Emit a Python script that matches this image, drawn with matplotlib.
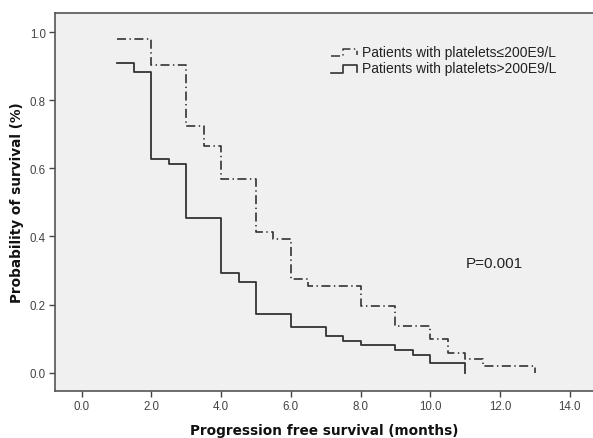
import matplotlib
matplotlib.use("Agg")
import matplotlib.pyplot as plt
from matplotlib.lines import Line2D

# Kaplan-Meier steps (value holds from that month on)
months_low = [1.0, 2.0, 3.0, 3.5, 4.0, 5.0, 5.5, 6.0, 6.5, 8.0, 9.0, 10.0, 10.5, 11.0, 11.5, 13.0]
surv_low = [0.979, 0.903, 0.725, 0.666, 0.569, 0.414, 0.392, 0.275, 0.255, 0.196,
            0.137, 0.098, 0.059, 0.039, 0.020, 0.0]

months_high = [1.0, 1.5, 2.0, 2.5, 3.0, 4.0, 4.5, 5.0, 6.0, 7.0, 7.5, 8.0, 9.0, 9.5, 10.0, 11.0]
surv_high = [0.909, 0.882, 0.627, 0.613, 0.453, 0.293, 0.266, 0.173, 0.133, 0.107,
             0.093, 0.080, 0.067, 0.053, 0.027, 0.0]

labels = ["Patients with platelets\u2264200E9/L", "Patients with platelets>200E9/L"]
x_ticks = [0, 2, 4, 6, 8, 10, 12, 14]
y_ticks = [0.0, 0.2, 0.4, 0.6, 0.8, 1.0]

plt.rcParams["lines.scale_dashes"] = False
plt.rcParams["font.family"] = ["Liberation Sans", "DejaVu Sans"]

W, H = 593, 439
fig = plt.figure(figsize=(W / 100, H / 100), dpi=100)


def fx(px):
    return px / W


def fy(py):
    return 1 - py / H


ax = fig.add_axes([fx(54.7), fy(392.3), 1 - fx(54.7), fy(14) - fy(392.3)])
ax.set_facecolor("#f0f0f0")

dashdot = (0, (6.5, 2.5, 1.0, 2.5))
line_col = "#333333"

ax.step(months_low, surv_low, where="post", color=line_col, lw=1.2, linestyle=dashdot)
ax.step(months_high, surv_high, where="post", color=line_col, lw=1.3)

ax.set_xlim(-0.775, 14.67)
ax.set_ylim(-0.0546, 1.0558)
ax.set_xticks(x_ticks)
ax.set_xticklabels(["%.1f" % t for t in x_ticks])
ax.set_yticks(y_ticks)
ax.set_yticklabels(["%.1f" % t for t in y_ticks])
ax.tick_params(direction="out", length=4.5, width=1, color="#444444",
               labelsize=8.3, labelcolor="#444444", pad=2)

for side in ["left", "bottom", "top"]:
    ax.spines[side].set_color("#555555")
    ax.spines[side].set_linewidth(1.2)
ax.spines["right"].set_visible(False)

ax.set_xlabel("Progression free survival (months)", family="DejaVu Sans",
              fontweight="bold", fontsize=9.8, color="#111111", labelpad=8)
ax.set_ylabel("Probability of survival (%)", family="DejaVu Sans",
              fontweight="bold", fontsize=9.8, color="#111111", labelpad=4)

# legend drawn by hand, SPSS style step icons
icon_low = [(331, 57), (343, 57), (343, 50), (357, 50), (357, 56)]
icon_high = [(331, 74), (343, 74), (343, 66), (357, 66), (357, 73)]
fig.add_artist(Line2D([fx(p[0]) for p in icon_low], [fy(p[1]) for p in icon_low],
                      transform=fig.transFigure, color=line_col, lw=1.1, linestyle=dashdot))
fig.add_artist(Line2D([fx(p[0]) for p in icon_high], [fy(p[1]) for p in icon_high],
                      transform=fig.transFigure, color=line_col, lw=1.2))
fig.text(fx(362), fy(53), labels[0], fontsize=10, va="center", ha="left", color="#222222")
fig.text(fx(362), fy(69.5), labels[1], fontsize=10, va="center", ha="left", color="#222222")

fig.text(fx(466), fy(264), "P=0.001", fontsize=11, va="center", ha="left", color="#222222")

fig.savefig("out.png", dpi=100)
